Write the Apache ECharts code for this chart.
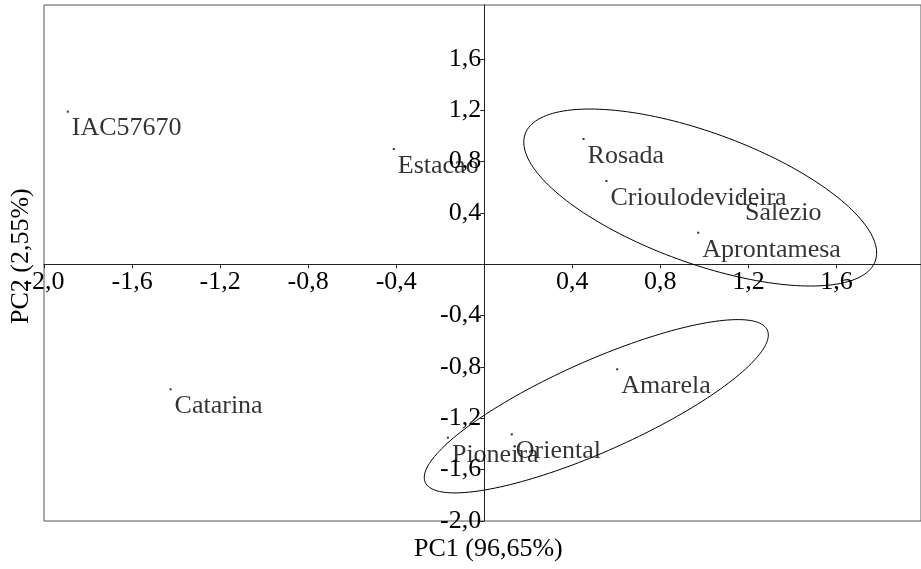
<!DOCTYPE html>
<html>
<head>
<meta charset="utf-8">
<style>
  html, body { margin: 0; padding: 0; background: #fff; }
  #chart { width: 921px; height: 569px; }
</style>
<script src="https://cdn.jsdelivr.net/npm/echarts@6/dist/echarts.min.js"></script>
</head>
<body>
<div id="chart"></div>
<script>
// Genotype scores on the first two principal components
const genotypes = ['IAC57670', 'Estacao', 'Rosada', 'Crioulodevideira', 'Salezio',
                   'Aprontamesa', 'Amarela', 'Oriental', 'Pioneira', 'Catarina'];
const pc1 = [-1.892, -0.411, 0.451, 0.555, 1.166, 0.972, 0.604, 0.125, -0.165, -1.425];
const pc2 = [1.189, 0.898, 0.976, 0.649, 0.532, 0.246, -0.818, -1.325, -1.351, -0.974];

// Tick values shown on the two crossing axes
const xTickValues = [-2.0, -1.6, -1.2, -0.8, -0.4, 0.4, 0.8, 1.2, 1.6];
const yTickValues = [-2.0, -1.6, -1.2, -0.8, -0.4, 0.4, 0.8, 1.2, 1.6];

// Group ellipses: centre and two conjugate semi-axis vectors, in PC units
const ellipseCenters = [[0.981, 0.520], [0.509, -1.106]];
const ellipseAxisU = [[0.795, -0.496], [0.777, 0.593]];
const ellipseAxisV = [[-0.1017, -0.4789], [0.0838, -0.3226]];

const FONT = '"Liberation Serif", "Times New Roman", serif';
const fmt = v => v.toFixed(1).replace('.', ',');

const points = genotypes.map((name, i) => ({ name: name, value: [pc1[i], pc2[i]] }));
const ellipseData = ellipseCenters.map((c, i) =>
  [c[0], c[1], ellipseAxisU[i][0], ellipseAxisU[i][1], ellipseAxisV[i][0], ellipseAxisV[i][1]]);

const GRID = { left: 44, right: 0, top: 5, bottom: 48 };

const chart = echarts.init(document.getElementById('chart'), null, { renderer: 'canvas' });

chart.setOption({
  animation: false,
  backgroundColor: '#fff',
  grid: {
    left: GRID.left, right: GRID.right, top: GRID.top, bottom: GRID.bottom,
    show: true, borderColor: '#555', borderWidth: 1,
    containLabel: false, outerBoundsMode: 'none'
  },
  xAxis: {
    type: 'value', min: -2.0, max: 1.984, position: 'bottom',
    splitLine: { show: false },
    axisLine: { onZero: false, lineStyle: { color: '#222', width: 1 } },
    axisTick: { show: true, length: 4, customValues: xTickValues, lineStyle: { color: '#222' } },
    axisLabel: {
      customValues: xTickValues, formatter: fmt, margin: 5,
      color: '#000', fontFamily: FONT, fontSize: 26
    }
  },
  yAxis: {
    type: 'value', min: -2.0, max: 2.02, position: 'left',
    splitLine: { show: false },
    axisLine: { onZero: false, lineStyle: { color: '#222', width: 1 } },
    axisTick: { show: true, length: 4, customValues: yTickValues, lineStyle: { color: '#222' } },
    axisLabel: {
      customValues: yTickValues, formatter: fmt, margin: 3,
      color: '#000', fontFamily: FONT, fontSize: 26
    }
  },
  graphic: [
    {
      type: 'text', left: 414, top: 536,
      style: { text: 'PC1 (96,65%)', fill: '#000', font: '26px ' + FONT }
    },
    {
      type: 'text', x: 8, y: 324, rotation: Math.PI / 2,
      style: { text: 'PC2 (2,55%)', fill: '#000', font: '26px ' + FONT }
    }
  ],
  series: [
    {
      type: 'custom',
      data: ellipseData,
      encode: { x: 0, y: 1 },
      clip: false,
      silent: true,
      renderItem: function (params, api) {
        const cx = api.value(0), cy = api.value(1);
        const ux = api.value(2), uy = api.value(3);
        const vx = api.value(4), vy = api.value(5);
        const pts = [];
        const n = 180;
        for (let k = 0; k < n; k++) {
          const t = (k / n) * Math.PI * 2;
          pts.push(api.coord([cx + ux * Math.cos(t) + vx * Math.sin(t),
                              cy + uy * Math.cos(t) + vy * Math.sin(t)]));
        }
        return {
          type: 'polygon',
          shape: { points: pts },
          style: { fill: 'none', stroke: '#000', lineWidth: 1 }
        };
      }
    },
    {
      type: 'scatter',
      data: points,
      symbol: 'rect',
      symbolSize: 2,
      itemStyle: { color: '#000' },
      label: {
        show: true,
        formatter: '{b}',
        position: [5, 5],
        align: 'left',
        verticalAlign: 'top',
        color: '#000',
        fontFamily: FONT,
        fontSize: 26
      },
      emphasis: { disabled: true }
    }
  ]
});

// Move both axes so they cross at the origin, labels included
const origin = chart.convertToPixel({ gridIndex: 0 }, [0, 0]);
const W = chart.getWidth(), H = chart.getHeight();
chart.setOption({
  xAxis: { offset: -((H - GRID.bottom) - origin[1]) },
  yAxis: { offset: -(origin[0] - GRID.left) }
});
</script>
</body>
</html>
